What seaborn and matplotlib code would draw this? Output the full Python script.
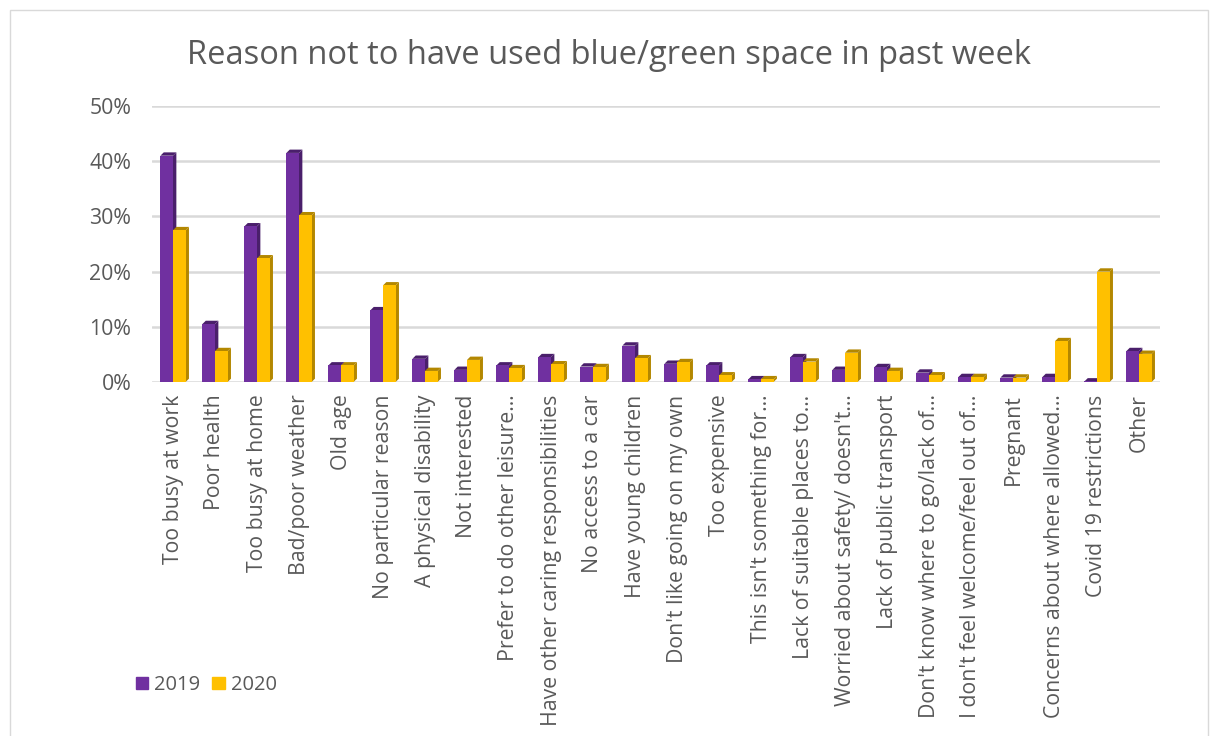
import matplotlib.pyplot as plt
import matplotlib.ticker as ticker
from matplotlib.patches import Polygon, Rectangle
import pandas as pd
import seaborn as sns

categories = [
    "Too busy at work",
    "Poor health",
    "Too busy at home",
    "Bad/poor weather",
    "Old age",
    "No particular reason",
    "A physical disability",
    "Not interested",
    "Prefer to do other leisure…",
    "Have other caring responsibilities",
    "No access to a car",
    "Have young children",
    "Don't like going on my own",
    "Too expensive",
    "This isn't something for…",
    "Lack of suitable places to…",
    "Worried about safety/ doesn't…",
    "Lack of public transport",
    "Don't know where to go/lack of…",
    "I don't feel welcome/feel out of…",
    "Pregnant",
    "Concerns about where allowed…",
    "Covid 19 restrictions",
    "Other",
]
vals_2019 = [41.0, 10.5, 28.2, 41.5, 3.0, 13.0, 4.2, 2.2, 3.0, 4.5, 2.8, 6.6,
             3.3, 3.0, 0.5, 4.5, 2.2, 2.7, 1.7, 0.9, 0.8, 0.9, 0.1, 5.6]
vals_2020 = [27.5, 5.6, 22.4, 30.2, 3.0, 17.5, 2.0, 4.0, 2.5, 3.2, 2.7, 4.3,
             3.6, 1.2, 0.5, 3.7, 5.3, 2.0, 1.2, 0.9, 0.8, 7.4, 20.0, 5.1]
years = ["2019", "2020"]

colors = {"2019": "#7030A0", "2020": "#FFC000"}
dark = {"2019": "#4A1F6B", "2020": "#B38700"}
grey = "#595959"

df = pd.DataFrame({
    "reason": categories * 2,
    "pct": vals_2019 + vals_2020,
    "year": [years[0]] * len(categories) + [years[1]] * len(categories),
})

sns.set_style("white")
plt.rcParams["font.family"] = ["Open Sans", "DejaVu Sans"]

fig = plt.figure(figsize=(12.18, 7.36), dpi=100)
ax = fig.add_axes([152 / 1218, 1 - 382 / 736, 1008 / 1218, 276 / 736])

sns.barplot(df, x="reason", y="pct", hue="year", palette=colors,
            width=0.6, gap=0, saturation=1, linewidth=0, legend=False, ax=ax)

# fake 3D depth like the Excel chart
dx, dy = 0.08, 0.6
for i, cont in enumerate(ax.containers):
    yr = years[i]
    for p in cont.patches:
        p.set_zorder(3 + i)
        p.set_linewidth(0)
        x0, w, h = p.get_x(), p.get_width(), p.get_height()
        side = Polygon([(x0 + w, 0), (x0 + w + dx, dy), (x0 + w + dx, h + dy), (x0 + w, h)],
                       closed=True, facecolor=dark[yr], edgecolor="none", zorder=2.9 + i)
        top = Polygon([(x0, h), (x0 + dx, h + dy), (x0 + w + dx, h + dy), (x0 + w, h)],
                      closed=True, facecolor=dark[yr], edgecolor="none", zorder=2.9 + i)
        ax.add_patch(side)
        ax.add_patch(top)

ax.set_ylim(0, 50)
ax.set_xlim(-0.5, len(categories) - 0.5)
ax.yaxis.set_major_locator(ticker.MultipleLocator(10))
ax.yaxis.set_major_formatter(ticker.PercentFormatter(decimals=0))
ax.grid(axis="y", color="#D9D9D9", linewidth=1.8, zorder=0)
ax.set_axisbelow(True)
ax.set_xlabel("")
ax.set_ylabel("")
ax.tick_params(axis="x", labelrotation=90, length=0, pad=9, labelsize=15.3, labelcolor=grey)
ax.tick_params(axis="y", length=0, pad=15, labelsize=15.3, labelcolor=grey)
sns.despine(ax=ax, left=True, bottom=True)

fig.text(0.5, 1 - 55 / 736, "Reason not to have used blue/green space in past week",
         ha="center", va="center", fontsize=23.5, color=grey)

handles = [Rectangle((0, 0), 1, 1, color=colors[y]) for y in years]
fig.legend(handles, years, loc="center left", bbox_to_anchor=(118 / 1218, 1 - 685 / 736),
           ncol=2, frameon=False, handlelength=0.6, handleheight=0.6,
           handletextpad=0.3, columnspacing=0.6, fontsize=14.5, labelcolor=grey)

fig.patches.append(Rectangle((10 / 1218, -0.1), 1198 / 1218, 1.1 - 10 / 736,
                             transform=fig.transFigure, fill=False,
                             edgecolor="#D9D9D9", linewidth=1))

fig.savefig("out.png", dpi=100)
